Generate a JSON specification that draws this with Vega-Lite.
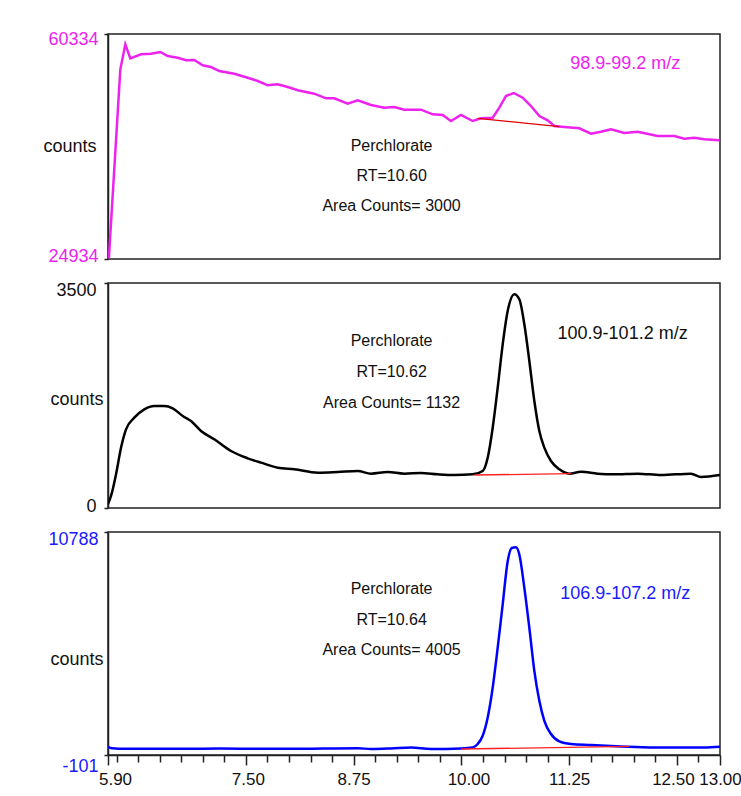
{
  "$schema": "https://vega.github.io/schema/vega-lite/v6.json",
  "padding": {"left": 42, "top": 29, "right": 0, "bottom": 0},
  "autosize": {"type": "pad"},
  "background": "white",
  "spacing": 24,
  "bounds": "flush",
  "config": {
    "view": {"stroke": "#222", "strokeWidth": 1.5},
    "axis": {
      "domainColor": "#222", "domainWidth": 1.5, "tickColor": "#222", "tickWidth": 1.5,
      "labelFont": "Liberation Sans", "labelFontSize": 18, "labelColor": "#111",
      "titleFont": "Liberation Sans", "titleFontSize": 18, "titleFontWeight": "normal", "titleColor": "#111",
      "grid": false
    }
  },
  "datasets": {
    "p1": [
      {"t":5.91,"c":25000},{"t":6.043,"c":54780},{"t":6.101,"c":58713},{"t":6.159,"c":56510},{"t":6.283,"c":57140},{"t":6.399,"c":57235},{"t":6.507,"c":57501},{"t":6.593,"c":56872},{"t":6.709,"c":56605},{"t":6.805,"c":56196},{"t":6.901,"c":56243},{"t":6.999,"c":55409},{"t":7.095,"c":55141},{"t":7.191,"c":54512},{"t":7.365,"c":54087},{"t":7.521,"c":53458},{"t":7.637,"c":52939},{"t":7.753,"c":52262},{"t":7.869,"c":52420},{"t":7.985,"c":51995},{"t":8.101,"c":51476},{"t":8.293,"c":50941},{"t":8.429,"c":50217},{"t":8.525,"c":50217},{"t":8.681,"c":49367},{"t":8.797,"c":49903},{"t":8.951,"c":49163},{"t":9.105,"c":48738},{"t":9.221,"c":48848},{"t":9.337,"c":48424},{"t":9.531,"c":48424},{"t":9.667,"c":47700},{"t":9.783,"c":47590},{"t":9.879,"c":46646},{"t":9.995,"c":47590},{"t":10.131,"c":46646},{"t":10.227,"c":47070},{"t":10.363,"c":47165},{"t":10.44,"c":48738},{"t":10.517,"c":50579},{"t":10.607,"c":51051},{"t":10.711,"c":50311},{"t":10.807,"c":49005},{"t":10.904,"c":47432},{"t":11.001,"c":46756},{"t":11.078,"c":45859},{"t":11.194,"c":45702},{"t":11.368,"c":45497},{"t":11.503,"c":44648},{"t":11.619,"c":44962},{"t":11.735,"c":45340},{"t":11.89,"c":44758},{"t":12.045,"c":44962},{"t":12.277,"c":44286},{"t":12.47,"c":44286},{"t":12.586,"c":43861},{"t":12.702,"c":44018},{"t":12.818,"c":43766},{"t":12.992,"c":43609}
    ],
    "p1base": [{"t":10.189,"c":47070},{"t":11.136,"c":45749}],
    "p2": [
      {"t":5.9,"c":60},{"t":5.935,"c":187},{"t":5.993,"c":524},{"t":6.051,"c":938},{"t":6.109,"c":1224},{"t":6.205,"c":1405},{"t":6.321,"c":1535},{"t":6.437,"c":1587},{"t":6.553,"c":1587},{"t":6.651,"c":1551},{"t":6.767,"c":1431},{"t":6.863,"c":1353},{"t":6.979,"c":1198},{"t":7.133,"c":1069},{"t":7.327,"c":887},{"t":7.521,"c":773},{"t":7.675,"c":705},{"t":7.869,"c":627},{"t":8.061,"c":602},{"t":8.333,"c":549},{"t":8.565,"c":560},{"t":8.797,"c":576},{"t":8.951,"c":534},{"t":9.145,"c":560},{"t":9.338,"c":534},{"t":9.531,"c":544},{"t":9.725,"c":524},{"t":9.917,"c":513},{"t":10.131,"c":524},{"t":10.247,"c":576},{"t":10.305,"c":782},{"t":10.363,"c":1249},{"t":10.421,"c":1871},{"t":10.479,"c":2546},{"t":10.537,"c":3064},{"t":10.614,"c":3324},{"t":10.672,"c":3247},{"t":10.73,"c":2858},{"t":10.788,"c":2287},{"t":10.846,"c":1664},{"t":10.904,"c":1198},{"t":10.962,"c":938},{"t":11.039,"c":731},{"t":11.136,"c":602},{"t":11.252,"c":534},{"t":11.387,"c":565},{"t":11.581,"c":534},{"t":11.774,"c":524},{"t":12.045,"c":534},{"t":12.316,"c":513},{"t":12.664,"c":534},{"t":12.78,"c":482},{"t":13.0,"c":513}
    ],
    "p2base": [{"t":10.149,"c":513},{"t":11.271,"c":534}],
    "p3": [
      {"t":5.9,"c":300},{"t":5.95,"c":230},{"t":6.1,"c":200},{"t":6.4,"c":210},{"t":6.8,"c":200},{"t":7.2,"c":215},{"t":7.6,"c":205},{"t":8.0,"c":200},{"t":8.4,"c":215},{"t":8.8,"c":230},{"t":8.951,"c":191},{"t":9.183,"c":220},{"t":9.415,"c":269},{"t":9.647,"c":191},{"t":9.995,"c":220},{"t":10.131,"c":269},{"t":10.189,"c":435},{"t":10.247,"c":839},{"t":10.305,"c":1730},{"t":10.363,"c":3191},{"t":10.421,"c":5139},{"t":10.479,"c":7253},{"t":10.537,"c":9361},{"t":10.584,"c":10009},{"t":10.633,"c":10043},{"t":10.672,"c":9688},{"t":10.73,"c":8061},{"t":10.788,"c":6113},{"t":10.846,"c":4004},{"t":10.904,"c":2543},{"t":10.962,"c":1569},{"t":11.039,"c":922},{"t":11.136,"c":561},{"t":11.271,"c":435},{"t":11.503,"c":386},{"t":11.851,"c":318},{"t":12.238,"c":269},{"t":12.818,"c":269},{"t":13.0,"c":303}
    ],
    "p3base": [{"t":9.995,"c":191},{"t":11.948,"c":318}],
    "n1": [{"t":9.19,"c":42713,"label":"Perchlorate"},{"t":9.19,"c":37993,"label":"RT=10.60"},{"t":9.19,"c":33273,"label":"Area Counts= 3000"}],
    "n2": [{"t":9.19,"c":2598,"label":"Perchlorate"},{"t":9.19,"c":2116,"label":"RT=10.62"},{"t":9.19,"c":1633,"label":"Area Counts= 1132"}],
    "n3": [{"t":9.19,"c":8005,"label":"Perchlorate"},{"t":9.19,"c":6491,"label":"RT=10.64"},{"t":9.19,"c":5026,"label":"Area Counts= 4005"}],
    "m1": [{"t":11.9,"c":55614,"label":"98.9-99.2 m/z"}],
    "m2": [{"t":11.87,"c":2707,"label":"100.9-101.2 m/z"}],
    "m3": [{"t":11.9,"c":7760,"label":"106.9-107.2 m/z"}]
  },
  "vconcat": [
    {
      "width": 612, "height": 225,
      "encoding": {
        "x": {"field": "t", "type": "quantitative", "scale": {"domain": [5.9, 13], "nice": false, "zero": false}, "axis": null},
        "y": {"field": "c", "type": "quantitative", "scale": {"domain": [24934, 60334], "nice": false, "zero": false},
          "axis": {"values": [24934, 60334], "format": "d", "title": "counts", "titleAngle": 0, "titleAlign": "right", "titleBaseline": "middle", "titleX": -12, "titleY": 112,
            "labelColor": "#ee22ee", "tickSize": 4, "labelPadding": 6,
            "labelOffset": {"condition": {"test": "datum.value > 40000", "value": 5}, "value": -3}}}
      },
      "layer": [
        {"data": {"name": "p1"}, "mark": {"type": "line", "color": "#ee22ee", "strokeWidth": 2.5, "clip": true}},
        {"data": {"name": "p1base"}, "mark": {"type": "line", "color": "#e00000", "strokeWidth": 1.3}},
        {"data": {"name": "n1"}, "mark": {"type": "text", "font": "Liberation Sans", "fontSize": 16, "color": "#111", "align": "center", "baseline": "middle"}, "encoding": {"text": {"field": "label"}}},
        {"data": {"name": "m1"}, "mark": {"type": "text", "font": "Liberation Sans", "fontSize": 18, "color": "#ee22ee", "align": "center", "baseline": "middle"}, "encoding": {"text": {"field": "label"}}}
      ]
    },
    {
      "width": 612, "height": 225,
      "encoding": {
        "x": {"field": "t", "type": "quantitative", "scale": {"domain": [5.9, 13], "nice": false, "zero": false}, "axis": null},
        "y": {"field": "c", "type": "quantitative", "scale": {"domain": [0, 3500], "nice": false, "zero": false},
          "axis": {"values": [0, 3500], "format": "d", "title": "counts", "titleAngle": 0, "titleAlign": "right", "titleBaseline": "middle", "titleX": -5, "titleY": 116,
            "tickSize": 4, "labelPadding": 8,
            "labelOffset": {"condition": {"test": "datum.value > 1000", "value": 7}, "value": -2}}}
      },
      "layer": [
        {"data": {"name": "p2"}, "mark": {"type": "line", "color": "#000000", "strokeWidth": 2.5, "clip": true, "interpolate": "monotone"}},
        {"data": {"name": "p2base"}, "mark": {"type": "line", "color": "#ff2020", "strokeWidth": 1.3}},
        {"data": {"name": "n2"}, "mark": {"type": "text", "font": "Liberation Sans", "fontSize": 16, "color": "#111", "align": "center", "baseline": "middle"}, "encoding": {"text": {"field": "label"}}},
        {"data": {"name": "m2"}, "mark": {"type": "text", "font": "Liberation Sans", "fontSize": 18, "color": "#111", "align": "center", "baseline": "middle"}, "encoding": {"text": {"field": "label"}}}
      ]
    },
    {
      "width": 612, "height": 223,
      "encoding": {
        "x": {"field": "t", "type": "quantitative", "scale": {"domain": [5.9, 13], "nice": false, "zero": false},
          "axis": {"title": null, "labelFontSize": 17,
            "values": [5.9, 6, 6.25, 6.5, 6.75, 7, 7.25, 7.5, 7.75, 8, 8.25, 8.5, 8.75, 9, 9.25, 9.5, 9.75, 10, 10.25, 10.5, 10.75, 11, 11.25, 11.5, 11.75, 12, 12.25, 12.5, 12.75, 13],
            "labelExpr": "indexof([5.9, 7.5, 8.75, 10, 11.25, 12.5, 13], datum.value) >= 0 ? format(datum.value, '.2f') : ''",
            "tickSize": {"condition": {"test": "indexof([5.9, 7.5, 8.75, 10, 11.25, 12.5, 13], datum.value) >= 0", "value": 10}, "value": 7},
            "labelOffset": {"condition": [{"test": "datum.value == 5.9 || datum.value == 10", "value": 7}, {"test": "datum.value == 7.5", "value": 2}, {"test": "datum.value == 12.5", "value": -4}], "value": 0},
            "labelPadding": 6, "labelOverlap": false, "labelFlush": false, "labelBound": false}},
        "y": {"field": "c", "type": "quantitative", "scale": {"domain": [-101, 10788], "nice": false, "zero": false},
          "axis": {"values": [-101, 10788], "labelExpr": "datum.value < 0 ? '-' + format(-datum.value, 'd') : format(datum.value, 'd')", "title": "counts", "titleAngle": 0, "titleAlign": "right", "titleBaseline": "middle", "titleX": -5, "titleY": 127,
            "labelColor": "#1a1aff", "tickSize": 4, "labelPadding": 6,
            "labelOffset": {"condition": {"test": "datum.value > 1000", "value": 7}, "value": 11}}}
      },
      "layer": [
        {"data": {"name": "p3"}, "mark": {"type": "line", "color": "#0000ff", "strokeWidth": 2.5, "clip": true, "interpolate": "monotone"}},
        {"data": {"name": "p3base"}, "mark": {"type": "line", "color": "#ff2020", "strokeWidth": 1.3}},
        {"data": {"name": "n3"}, "mark": {"type": "text", "font": "Liberation Sans", "fontSize": 16, "color": "#111", "align": "center", "baseline": "middle"}, "encoding": {"text": {"field": "label"}}},
        {"data": {"name": "m3"}, "mark": {"type": "text", "font": "Liberation Sans", "fontSize": 18, "color": "#1a1aff", "align": "center", "baseline": "middle"}, "encoding": {"text": {"field": "label"}}}
      ]
    }
  ]
}
